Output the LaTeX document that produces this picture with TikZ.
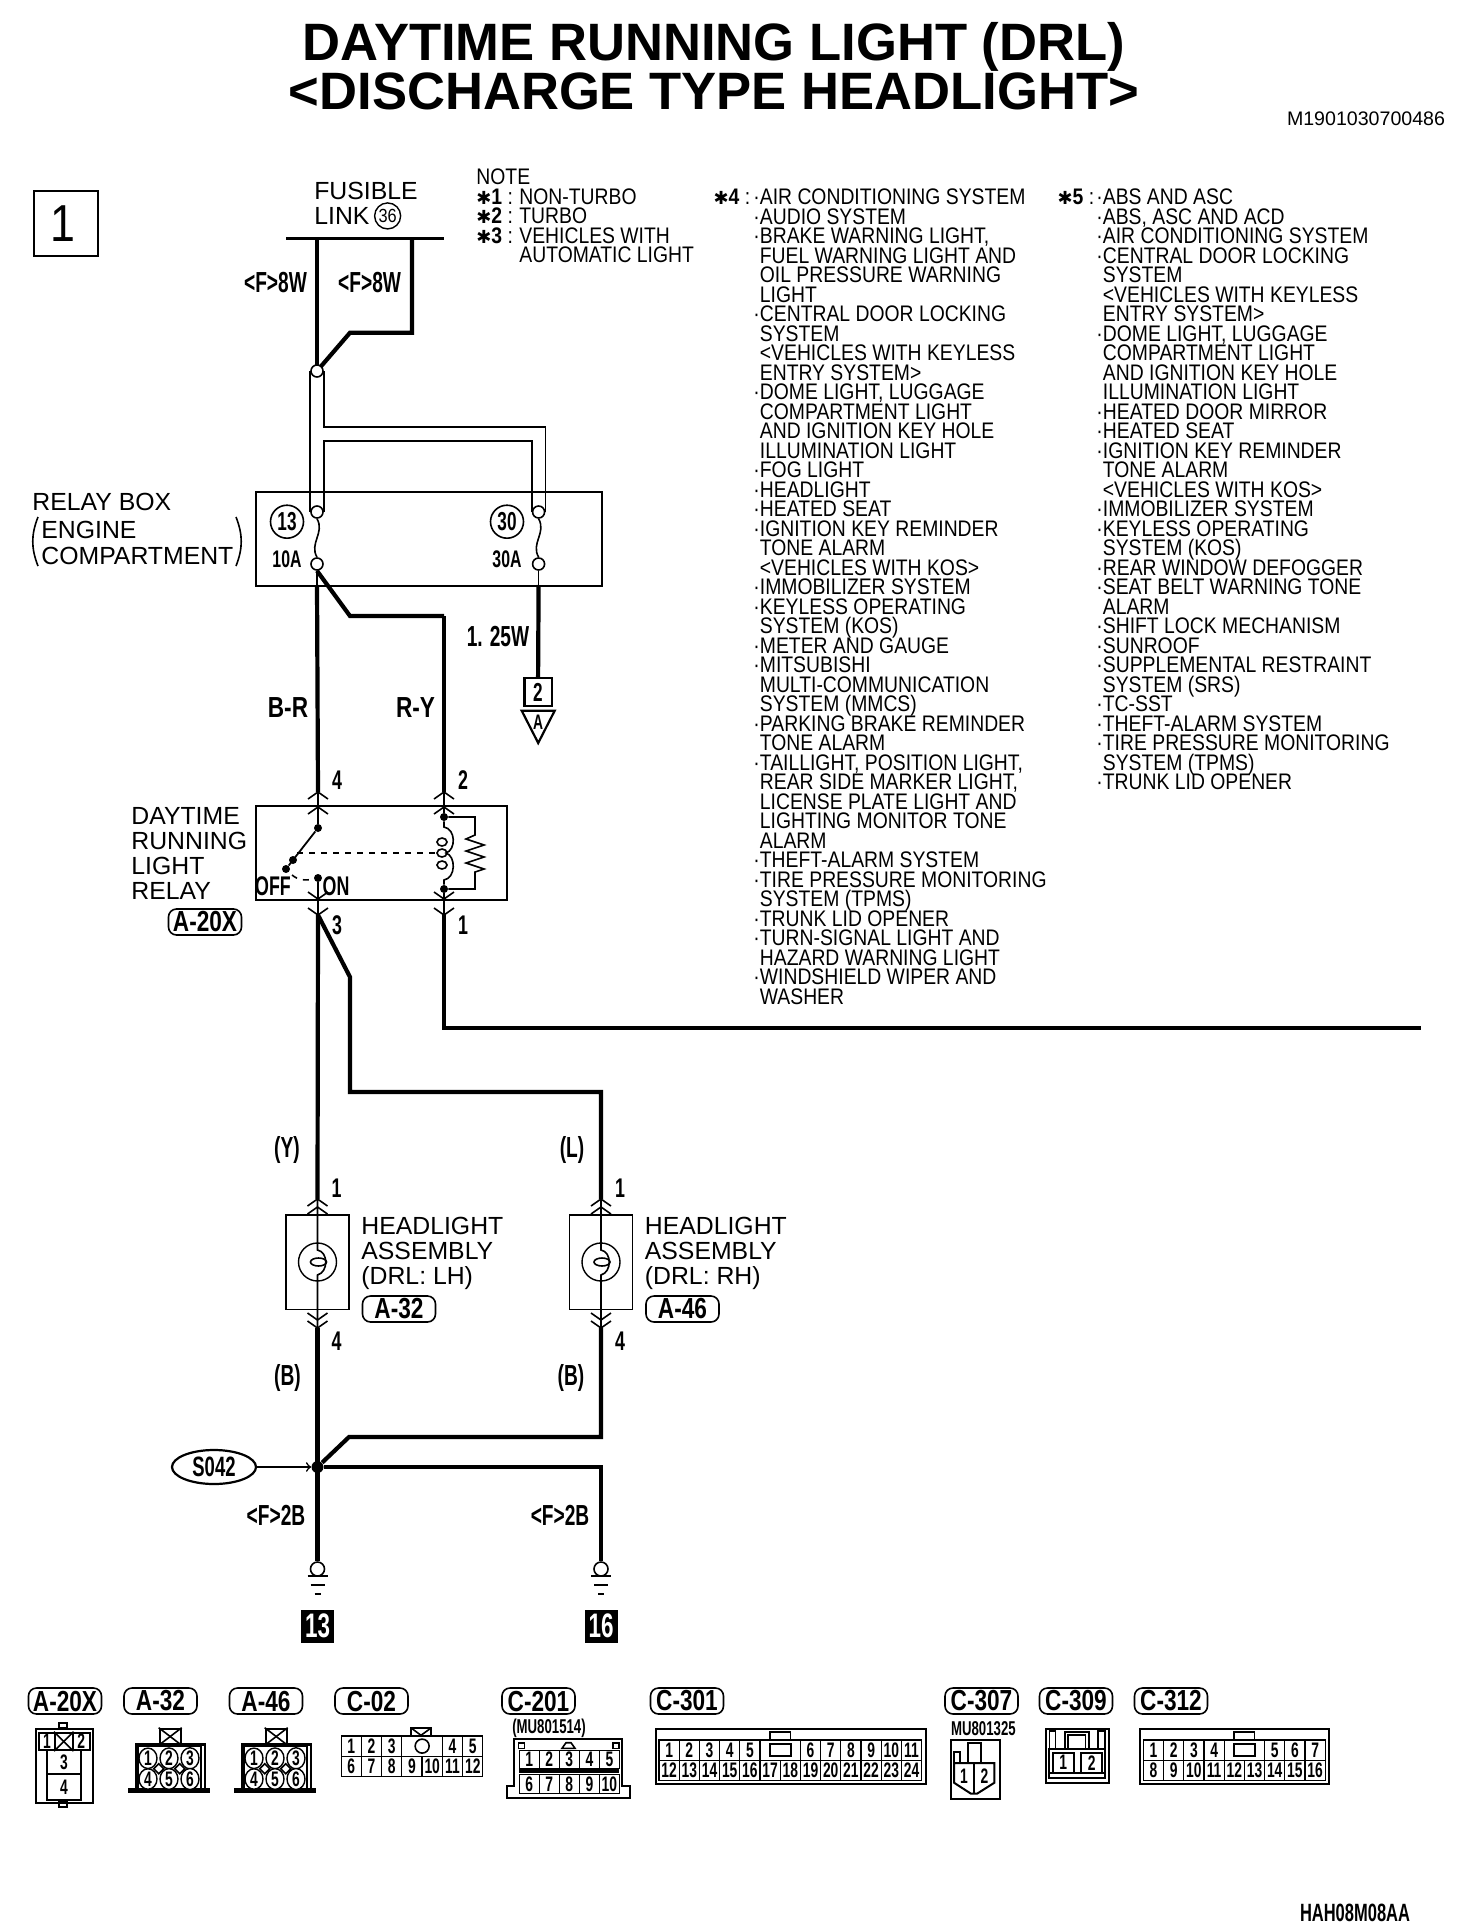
\documentclass[tikz,border=0pt]{standalone}
\usepackage{fontspec}
\setmainfont{Liberation Sans}
\newfontfamily\condfont[FakeStretch=0.86]{Liberation Sans}
\newfontfamily\narrowfont[FakeStretch=0.66]{Liberation Sans}
\newfontfamily\tagfont[FakeStretch=0.78]{Liberation Sans}
\newfontfamily\symfont{DejaVu Sans}
\usetikzlibrary{positioning,shapes.geometric}

\newcommand{\itm}{\llap{·}}
\newcommand{\notemark}[1]{\makebox[21.5pt][l]{{\symfont\fontsize{9}{9}\selectfont ✱}\textbf{#1} :}}
\newcommand{\labfont}{\narrowfont\bfseries\fontsize{14.5}{14.5}\selectfont}
\newcommand{\tabfont}{\tagfont\bfseries\fontsize{14.5}{14.5}\selectfont}
\newcommand{\pinfont}{\narrowfont\bfseries\fontsize{10.5}{11}\selectfont}
\newcommand{\tightlines}{\setlength{\lineskiplimit}{-20pt}}
\newcommand{\plainfont}{\fontsize{12.4}{12.5}\selectfont\tightlines}
\newcommand{\listfont}{\condfont\fontsize{11.25}{9.75}\selectfont\tightlines}

\tikzset{
    thinline/.style = {line width=0.8pt},
    wire/.style = {line width=2.1pt, line join=miter},
    outline/.style = {line width=1pt},
    plain/.style = {inner sep=0pt, font=\plainfont, align=left, anchor=north west},
    listtext/.style = {inner sep=0pt, font=\listfont, align=left, anchor=north west},
    wirelab/.style = {inner sep=0pt, font=\labfont},
    pinlab/.style = {inner sep=0pt, font=\narrowfont\bfseries\fontsize{13.5}{14}\selectfont},
    fuseamp/.style = {inner sep=0pt, font=\narrowfont\bfseries\fontsize{12}{12}\selectfont},
    tagbox/.style = {draw, line width=0.8pt, rounded corners=4pt, inner sep=0pt, minimum width=36.5pt, minimum height=13pt, font=\tabfont},
    fusedot/.style = {draw, circle, fill=white, line width=0.8pt, inner sep=0pt, minimum size=6pt},
    fusenum/.style = {draw, circle, line width=0.8pt, inner sep=0pt, minimum size=16.5pt, font=\narrowfont\bfseries\fontsize{13}{13}\selectfont},
    solder/.style = {circle, fill=black, inner sep=0pt, minimum size=4pt},
    pincell/.style = {draw, fill=white, line width=0.6pt, inner sep=0pt, anchor=north west, minimum width=10.1pt, minimum height=10.2pt, font=\pinfont},
    pinoval/.style = {draw, ellipse, fill=white, line width=0.7pt, inner sep=0pt, minimum width=9pt, minimum height=10pt, font=\pinfont},
    earthbox/.style = {fill=black, text=white, inner sep=0pt, minimum size=16.5pt, font=\narrowfont\bfseries\fontsize{17}{17}\selectfont},
    chevup/.pic = {\draw[thinline] (-10,7) -- (0,0) -- (10,7);},
    chevdown/.pic = {\draw[thinline] (-10,-7) -- (0,0) -- (10,-7);},
}

\begin{document}
\begin{tikzpicture}[x=0.5pt,y=-0.5pt]
    \useasboundingbox (0,0) rectangle (1472,1932);

    \node[inner sep=0pt, align=center, font=\bfseries\fontsize{26.3}{24.5}\selectfont, anchor=north] (title) at (714,21.5)
        {DAYTIME RUNNING LIGHT (DRL)\\<DISCHARGE TYPE HEADLIGHT>};
    \node[inner sep=0pt, font=\fontsize{9.8}{10}\selectfont] (figno) at (1366,119) {M1901030700486};
    \node[inner sep=0pt, font=\narrowfont\bfseries\fontsize{12.5}{12}\selectfont] (drawno) at (1355,1913) {HAH08M08AA};

    \node[draw, outline, minimum width=32pt, minimum height=32.5pt, inner sep=0pt, font=\condfont\fontsize{26}{26}\selectfont] (sheet) at (65.5,223.5) {\hspace{-3pt}1};

    % fusible link
    \node[plain, anchor=north] (fusible) at (366,182) {FUSIBLE};
    \node[plain] (link) at (314,207) {LINK};
    \node[draw, circle, line width=0.7pt, inner sep=0pt, minimum size=13pt, font=\condfont\fontsize{9.5}{10}\selectfont, right=2pt of link] (fl36) {36};
    \coordinate (barl) at (286,238);
    \coordinate (barr) at (444,238);
    \coordinate (flleft) at (317,238);
    \coordinate (flright) at (412,238);
    \coordinate (flbend) at (412,332.7);
    \coordinate (flslant) at (350,332.7);
    \coordinate (flmeet) at (317,371);
    \draw[line width=1.5pt] (barl) -- (barr);
    \draw[wire] (flleft) -- (flmeet);
    \draw[wire] (flright) -- (flbend) -- (flslant) -- (flmeet);
    \node[fusedot] (flsplit) at (flmeet) {};
    \node[wirelab] (w8l) at (275.5,283) {<F>8W};
    \node[wirelab] (w8r) at (369.6,283) {<F>8W};

    % notes
    \node[listtext] (note) at (476,168.7) {NOTE\\
        \notemark{1}NON-TURBO\\
        \notemark{2}TURBO\\
        \notemark{3}VEHICLES WITH\\
        \hspace*{21.5pt}AUTOMATIC LIGHT};
    \node[listtext] (list4) at (759.5,188.7) {\itm AIR CONDITIONING SYSTEM\\
        \itm AUDIO SYSTEM\\
        \itm BRAKE WARNING LIGHT,\\
        FUEL WARNING LIGHT AND\\
        OIL PRESSURE WARNING\\
        LIGHT\\
        \itm CENTRAL DOOR LOCKING\\
        SYSTEM\\
        <VEHICLES WITH KEYLESS\\
        ENTRY SYSTEM>\\
        \itm DOME LIGHT, LUGGAGE\\
        COMPARTMENT LIGHT\\
        AND IGNITION KEY HOLE\\
        ILLUMINATION LIGHT\\
        \itm FOG LIGHT\\
        \itm HEADLIGHT\\
        \itm HEATED SEAT\\
        \itm IGNITION KEY REMINDER\\
        TONE ALARM\\
        <VEHICLES WITH KOS>\\
        \itm IMMOBILIZER SYSTEM\\
        \itm KEYLESS OPERATING\\
        SYSTEM (KOS)\\
        \itm METER AND GAUGE\\
        \itm MITSUBISHI\\
        MULTI-COMMUNICATION\\
        SYSTEM (MMCS)\\
        \itm PARKING BRAKE REMINDER\\
        TONE ALARM\\
        \itm TAILLIGHT, POSITION LIGHT,\\
        REAR SIDE MARKER LIGHT,\\
        LICENSE PLATE LIGHT AND\\
        LIGHTING MONITOR TONE\\
        ALARM\\
        \itm THEFT-ALARM SYSTEM\\
        \itm TIRE PRESSURE MONITORING\\
        SYSTEM (TPMS)\\
        \itm TRUNK LID OPENER\\
        \itm TURN-SIGNAL LIGHT AND\\
        HAZARD WARNING LIGHT\\
        \itm WINDSHIELD WIPER AND\\
        WASHER};
    \node[listtext, anchor=north east] (star4) at (757,188.7) {\notemark{4}};
    \node[listtext] (list5) at (1102.5,188.7) {\itm ABS AND ASC\\
        \itm ABS, ASC AND ACD\\
        \itm AIR CONDITIONING SYSTEM\\
        \itm CENTRAL DOOR LOCKING\\
        SYSTEM\\
        <VEHICLES WITH KEYLESS\\
        ENTRY SYSTEM>\\
        \itm DOME LIGHT, LUGGAGE\\
        COMPARTMENT LIGHT\\
        AND IGNITION KEY HOLE\\
        ILLUMINATION LIGHT\\
        \itm HEATED DOOR MIRROR\\
        \itm HEATED SEAT\\
        \itm IGNITION KEY REMINDER\\
        TONE ALARM\\
        <VEHICLES WITH KOS>\\
        \itm IMMOBILIZER SYSTEM\\
        \itm KEYLESS OPERATING\\
        SYSTEM (KOS)\\
        \itm REAR WINDOW DEFOGGER\\
        \itm SEAT BELT WARNING TONE\\
        ALARM\\
        \itm SHIFT LOCK MECHANISM\\
        \itm SUNROOF\\
        \itm SUPPLEMENTAL RESTRAINT\\
        SYSTEM (SRS)\\
        \itm TC-SST\\
        \itm THEFT-ALARM SYSTEM\\
        \itm TIRE PRESSURE MONITORING\\
        SYSTEM (TPMS)\\
        \itm TRUNK LID OPENER};
    \node[listtext, anchor=north east] (star5) at (1101,188.7) {\notemark{5}};

    % relay box
    \node[plain] (rbox1) at (32,493) {RELAY BOX};
    \node[plain] (rbox2) at (41,521) {ENGINE};
    \node[plain] (rbox3) at (41,547) {COMPARTMENT};
    \draw[thinline] (38,517) .. controls (31,535) and (31,548) .. (38,566);
    \draw[thinline] (236,517) .. controls (243,535) and (243,548) .. (236,566);
    \node[draw, outline, minimum width=173pt, minimum height=47.2pt, inner sep=0pt, anchor=north west] (relaybox) at (255,490.7) {};
    \node[fusedot] (f13top) at (317,512) {};
    \node[fusedot] (f13bot) at (317,564) {};
    \node[fusedot] (f30top) at (538.6,512) {};
    \node[fusedot] (f30bot) at (538.6,564) {};
    \draw[thinline] (flsplit.west) -- (f13top.west);
    \draw[thinline] (flsplit.east) -- ++(0,56) -| (f30top.east);
    \draw[thinline] (f13top.east) -- ++(0,-71.3) -| (f30top.west);
    \draw[thinline] (f13top.south) .. controls +(8,14) and +(-8,-14) .. (f13bot.north);
    \draw[thinline] (f30top.south) .. controls +(8,14) and +(-8,-14) .. (f30bot.north);
    \node[fusenum] (n13) at (287,521.7) {13};
    \node[fusenum] (n30) at (507,521.7) {30};
    \node[fuseamp] (a10) at (287,559) {10A};
    \node[fuseamp] (a30) at (507,559) {30A};

    % wires below relay box
    \coordinate (boxl) at (317,585);
    \coordinate (boxr) at (538.6,585);
    \coordinate (ryslant) at (350,616);
    \coordinate (rybend) at (444,616);
    \draw[thinline] (f13bot) -- (boxl);
    \draw[thinline] (f30bot) -- (boxr);
    \draw[wire] (f13bot.south) -- (ryslant) -- (rybend);
    \node[wirelab] (w125) at (498,637) {1. 25W};
    \node[inner sep=0pt, font=\tabfont] (wbr) at (288,708) {B-R};
    \node[inner sep=0pt, font=\tabfont] (wry) at (415.6,708) {R-Y};

    % connection to sheet A
    \node[draw, line width=1.2pt, minimum width=13.7pt, minimum height=13.8pt, inner sep=0pt, font=\narrowfont\bfseries\fontsize{13}{13}\selectfont] (to2) at (538,692) {2};
    \node[inner sep=0pt, font=\narrowfont\bfseries\fontsize{10.5}{11}\selectfont] (toa) at (538,722) {A};
    \draw[line width=1.1pt] (521.7,710.7) -- (554.7,710.7) -- (538.2,743) -- cycle;
    \draw[wire] (boxr) -- (to2);

    % daytime running light relay
    \node[plain] (drl) at (131,807) {DAYTIME\\RUNNING\\LIGHT\\RELAY};
    \node[tagbox] (a20x) at (205,922) {A-20X};
    \node[draw, line width=0.8pt, minimum width=125.5pt, minimum height=47pt, inner sep=0pt, anchor=north west] (relay) at (255,805) {};
    \coordinate (p4) at (318,792);
    \coordinate (p2) at (444,792);
    \coordinate (p3) at (318,915);
    \coordinate (p1) at (444,915);
    \node[solder] (pivot) at (318,828) {};
    \node[solder] (armend) at (286,869) {};
    \node[solder] (armmid) at (293,860) {};
    \node[solder] (onpt) at (318,878) {};
    \node[solder] (coiltop) at (444,817) {};
    \node[solder] (coilbot) at (444,889) {};
    \draw[wire] (boxl) -- (p4);
    \draw[wire] (rybend) -- (p2);
    \draw[thinline] (p4) -- (pivot);
    \draw[thinline] (p2) -- (coiltop);
    \draw[line width=0.9pt] (pivot) -- (armend);
    \draw[thinline] (onpt) -- (p3);
    \draw[thinline] (coilbot) -- (p1);
    \draw[dashed, thinline] (297,853) -- (437,853);
    \draw[dashed, thinline] (292,875) .. controls (298,880) and (305,881) .. (onpt);
    \pic at (318,792) {chevup};
    \pic at (318,807) {chevup};
    \pic at (444,792) {chevup};
    \pic at (444,807) {chevup};
    \pic at (318,899) {chevdown};
    \pic at (318,915) {chevdown};
    \pic at (444,899) {chevdown};
    \pic at (444,915) {chevdown};
    \foreach \y in {842,853,865}
        \draw[thinline] (442,\y) ellipse [x radius=5, y radius=4];
    \draw[thinline] (coiltop) -- (444,827) .. controls (456,829) and (456,850) .. (446,853) .. controls (456,856) and (456,878) .. (444,880) -- (coilbot);
    \draw[thinline] (coiltop) -- (475,817) -- (475,835) -- (466,839) -- (484,845) -- (466,851) -- (484,857) -- (466,863) -- (484,869) -- (475,872) -- (475,889) -- (coilbot);
    \node[pinlab] (n4) at (337,780) {4};
    \node[pinlab] (n2) at (463,780) {2};
    \node[pinlab] (n3) at (337,925) {3};
    \node[pinlab] (n1) at (463,925) {1};
    \node[pinlab] (off) at (273,886) {OFF};
    \node[pinlab] (on) at (336,886) {ON};

    % wires to headlights
    \coordinate (lslant) at (350,977);
    \coordinate (lbend) at (350,1092);
    \coordinate (rbend) at (601,1092);
    \coordinate (ctrlw) at (444,1028);
    \coordinate (ctrle) at (1421,1028);
    \draw[wire] (p3) -- (317.5,1199);
    \draw[wire] (p3) -- (lslant) -- (lbend) -- (rbend) -- (601,1199);
    \draw[wire] (p1) -- (ctrlw) -- (ctrle);
    \node[wirelab] (wy) at (287,1150) {(Y)};
    \node[wirelab] (wl) at (572,1150) {(L)};

    % headlight assemblies
    \foreach \nm/\xx/\tg/\sd in {lh/317.5/A-32/LH,rh/601/A-46/RH} {
        \node[draw, line width=0.8pt, minimum width=31.4pt, minimum height=47.3pt, inner sep=0pt] (\nm) at (\xx,1262) {};
        \node[draw, circle, line width=0.7pt, inner sep=0pt, minimum size=19pt] (\nm-lamp) at (\xx,1262) {};
        \draw[thinline] (\xx+1,1262) ellipse [x radius=8, y radius=4];
        \coordinate (\nm-in) at (\xx,1199);
        \coordinate (\nm-out) at (\xx,1328);
        \draw[thinline] (\nm-in) -- (\xx,1250) .. controls (\xx+11,1252) and (\xx+11,1272) .. (\xx,1275) -- (\nm-out);
        \pic at (\xx,1199) {chevup};
        \pic at (\xx,1207) {chevup};
        \pic at (\xx,1320) {chevdown};
        \pic at (\xx,1328) {chevdown};
        \node[plain] (\nm-text) at (\xx+43.5,1217) {HEADLIGHT\\ASSEMBLY\\(DRL: \sd)};
        \node[tagbox] (\nm-tag) at (\xx+81.5,1309) {\tg};
        \node[pinlab] (\nm-p1) at (\xx+19,1188) {1};
        \node[pinlab] (\nm-p4) at (\xx+19,1341) {4};
        \node[wirelab] (\nm-b) at (\xx-30,1378) {(B)};
    }

    % ground side
    \node[solder, minimum size=6pt] (s042pt) at (317.5,1467) {};
    \coordinate (retbend) at (349,1437);
    \coordinate (retend) at (601,1437);
    \coordinate (gndbend) at (601,1467);
    \node[draw, ellipse, line width=1.1pt, inner sep=0pt, minimum width=42pt, minimum height=17pt, font=\narrowfont\bfseries\fontsize{14}{14}\selectfont] (s042) at (214,1467) {S042};
    \draw[thinline, ->] (s042) -- (s042pt);
    \node[wirelab] (w2bl) at (276,1515) {<F>2B};
    \node[wirelab] (w2br) at (560,1515) {<F>2B};
    \foreach \nm/\xx/\tx in {lh/317.5/13,rh/601/16} {
        \node[draw, circle, fill=white, line width=0.8pt, inner sep=0pt, minimum size=7pt] (\nm-gnd) at (\xx,1569) {};
        \draw[thinline] (\xx-10,1576) -- (\xx+10,1576);
        \draw[thinline] (\xx-7,1585) -- (\xx+7,1585);
        \draw[thinline] (\xx-3,1594) -- (\xx+3,1594);
        \node[earthbox] (\nm-earth) at (\xx,1626) {\tx};
    }
    \draw[wire] (lh-out) -- (lh-gnd);
    \draw[wire] (rh-out) -- (retend) -- (retbend) -- (s042pt);
    \draw[wire] (s042pt) -- (gndbend) -- (rh-gnd);

    \begin{scope}[yshift=2.5pt]
    % connector tags
    \foreach \nm/\xx in {A-20X/65,A-32/160.5,A-46/266,C-02/371.5,C-201/538.5,C-301/687,C-307/981.5,C-309/1076,C-312/1171}
        \node[tagbox] (tag-\nm) at (\xx,1706) {\nm};

    % connector A-20X
    \draw[outline] (58.5,1732.7) rectangle (67.3,1728);
    \draw[outline] (58.5,1807) rectangle (67.3,1812);
    \node[draw, outline, minimum width=28.75pt, minimum height=37.15pt, inner sep=0pt, anchor=north west] (a20x-body) at (34.5,1732.7) {};
    \node[pincell, minimum width=17pt, minimum height=12.2pt, outline] (a20x-3) at (46,1754) {3};
    \node[pincell, minimum width=17pt, minimum height=12.85pt, outline] (a20x-4) at (46,1778.3) {4};
    \node[pincell, minimum width=8pt, minimum height=8.7pt, outline] (a20x-1) at (38,1736.7) {1};
    \node[pincell, minimum width=8.75pt, minimum height=8.7pt, outline] (a20x-x) at (54,1736.7) {};
    \node[pincell, minimum width=8.75pt, minimum height=8.7pt, outline] (a20x-2) at (71.5,1736.7) {2};
    \draw[thinline] (a20x-x.north west) -- (a20x-x.south east);
    \draw[thinline] (a20x-x.north east) -- (a20x-x.south west);

    % connectors A-32 and A-46
    \foreach \nm/\dx in {a32/0,a46/106} {
        \begin{scope}[xshift=\dx*0.5pt]
            \node[draw, outline, minimum width=10.5pt, minimum height=7.8pt, inner sep=0pt, anchor=north west] (\nm-key) at (158.7,1732.7) {};
            \draw[thinline] (\nm-key.north west) -- (\nm-key.south east);
            \draw[thinline] (\nm-key.north east) -- (\nm-key.south west);
            \node[draw, line width=1.2pt, minimum width=34.5pt, minimum height=23pt, inner sep=0pt, anchor=north west] (\nm-body) at (134.7,1748.3) {};
            \draw[outline] (137.5,1794) -- (137.5,1751) -- (201,1751) -- (201,1794);
            \fill (128.4,1793.3) rectangle (209.6,1797.7);
            \foreach \n/\px/\py in {1/148/1763.3,2/169/1763.3,3/190/1763.3,4/148/1784,5/169/1784,6/190/1784}
                \node[pinoval] (\nm-\n) at (\px,\py) {\n};
            \foreach \px in {158.7,179.7}
                \draw[thinline] (\px,1768.7) -- (\px+5,1773.7) -- (\px,1778.7) -- (\px-5,1773.7) -- cycle;
        \end{scope}
    }

    % connector C-02
    \draw[outline] (410.8,1740.3) |- (431.4,1732.7) -- (431.4,1740.3);
    \draw[thinline] (410.8,1732.7) -- (421,1740.3) -- (431.4,1732.7);
    \foreach \n/\i in {1/0,2/1,3/2,4/5,5/6}
        \node[pincell] (c02-\n) at (340.5+\i*20.26,1740.3) {\n};
    \node[pincell, minimum width=20.26pt] (c02-key) at (340.5+3*20.26,1740.3) {};
    \node[draw, circle, thinline, inner sep=0pt, minimum size=7pt] (c02-hole) at (c02-key) {};
    \foreach \n [count=\i from 0] in {6,...,12}
        \node[pincell] (c02-\n) at (340.5+\i*20.26,1760.7) {\n};

    % connector C-201
    \node[inner sep=0pt, font=\narrowfont\bfseries\fontsize{10}{10}\selectfont] (c201-part) at (549,1733.3) {(MU801514)};
    \draw[outline] (514,1791) -- (514,1743.7) -- (622,1743.7) -- (622,1791) -- (630,1791) -- (630,1802.7) -- (506.7,1802.7) -- (506.7,1791) -- cycle;
    \draw[thinline] (518.5,1753.3) rectangle (524.4,1747.7);
    \draw[thinline] (612.8,1753.3) rectangle (618.7,1747.7);
    \draw[thinline] (562,1753.3) -- (566,1747.7) -- (571,1747.7) -- (575,1753.3) -- cycle;
    \foreach \n [count=\i from 0] in {1,...,5}
        \node[pincell, minimum height=8.8pt] (c201-\n) at (518.5+\i*20.05,1755) {\n};
    \fill (518.5,1773.7) rectangle (618.7,1777.7);
    \foreach \n [count=\i from 0] in {6,...,10}
        \node[pincell, minimum height=9.5pt] (c201-\n) at (518.5+\i*20.05,1778.7) {\n};

    % connector C-301
    \node[draw, outline, minimum width=135pt, minimum height=27.8pt, inner sep=0pt, anchor=north west] (c301-body) at (654.7,1732.7) {};
    \draw[thinline] (770,1744.3) rectangle (790.6,1736.7);
    \foreach \n/\i in {1/0,2/1,3/2,4/3,5/4,6/7,7/8,8/9,9/10,10/11,11/12}
        \node[pincell] (c301-\n) at (658.4+\i*20.2,1744.3) {\n};
    \node[pincell, minimum width=20.2pt] (c301-key) at (658.4+5*20.2,1744.3) {};
    \node[draw, outline, minimum width=10.3pt, minimum height=6pt, inner sep=0pt] (c301-slot) at (c301-key) {};
    \foreach \n [count=\i from 0] in {12,...,24}
        \node[pincell] (c301-\n) at (658.4+\i*20.2,1764.7) {\n};

    % connector C-307
    \node[inner sep=0pt, font=\narrowfont\bfseries\fontsize{10}{10}\selectfont] (c307-part) at (983.4,1733.3) {MU801325};
    \node[draw, outline, minimum width=24.1pt, minimum height=29.5pt, inner sep=0pt, anchor=north west] (c307-body) at (950.4,1743.7) {};
    \draw[outline] (967.8,1768) -- (967.8,1747.7) -- (980.7,1747.7) -- (980.7,1768);
    \draw[outline] (954,1768) -- (954,1757) -- (960,1757) -- (960,1768);
    \draw[outline] (954,1768) -- (994.4,1768) -- (994.4,1787.7) -- (977,1798.7) -- (971,1798.7) -- (954,1787.7) -- cycle;
    \draw[thinline] (974.2,1768) -- (974.2,1798.7);
    \node[inner sep=0pt, font=\pinfont] (c307-1) at (964,1781.3) {1};
    \node[inner sep=0pt, font=\pinfont] (c307-2) at (984.4,1781.3) {2};

    % connector C-309
    \node[draw, outline, minimum width=31.65pt, minimum height=27.15pt, inner sep=0pt, anchor=north west] (c309-body) at (1045,1732.7) {};
    \draw[thinline] (1049.5,1754.3) -- (1049.5,1736) -- (1055.5,1736) -- (1055.5,1754.3);
    \draw[thinline] (1098,1754.3) -- (1098,1736) -- (1104.7,1736) -- (1104.7,1754.3);
    \draw[thinline] (1064.7,1754.3) -- (1064.7,1736.7) -- (1089,1736.7) -- (1089,1754.3);
    \draw[thinline] (1068,1754.3) -- (1068,1740) -- (1085.5,1740) -- (1085.5,1754.3);
    \draw[outline] (1048.6,1754.3) rectangle (1104.7,1782.7);
    \draw[thinline] (1048.6,1778) -- (1104.7,1778);
    \node[pincell, outline, minimum width=10.35pt, minimum height=10pt] (c309-1) at (1051.8,1756.7) {1};
    \node[pincell, outline, minimum width=10.75pt, minimum height=10pt] (c309-2) at (1079.9,1756.7) {2};

    % connector C-312
    \node[draw, outline, minimum width=94.6pt, minimum height=27.8pt, inner sep=0pt, anchor=north west] (c312-body) at (1139,1732.7) {};
    \draw[thinline] (1233.7,1744.3) rectangle (1254.3,1736.7);
    \foreach \n/\i in {1/0,2/1,3/2,4/3,5/6,6/7,7/8}
        \node[pincell] (c312-\n) at (1142.8+\i*20.2,1744.3) {\n};
    \node[pincell, minimum width=20.2pt] (c312-key) at (1142.8+4*20.2,1744.3) {};
    \node[draw, outline, minimum width=10.3pt, minimum height=6pt, inner sep=0pt] (c312-slot) at (c312-key) {};
    \foreach \n [count=\i from 0] in {8,...,16}
        \node[pincell] (c312-\n) at (1142.8+\i*20.2,1764.7) {\n};
    \end{scope}
\end{tikzpicture}
\end{document}
